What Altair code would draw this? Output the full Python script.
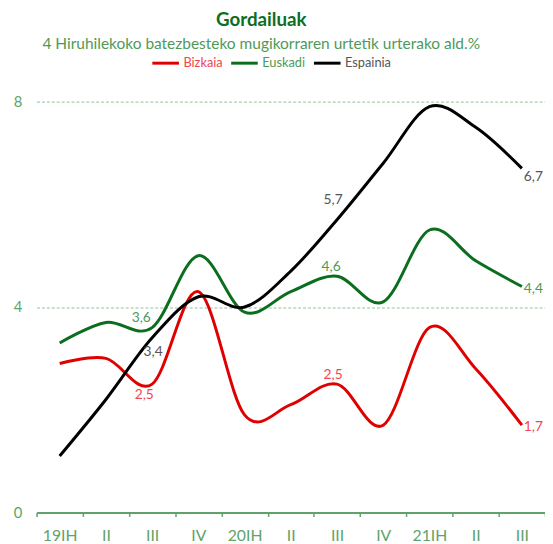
import altair as alt
import pandas as pd

# ---------------- data ----------------
quarters = ["19IH", "II", "III", "IV", "20IH", "II", "III", "IV", "21IH", "II", "III"]
series_names = ["Bizkaia", "Euskadi", "Espainia"]
bizkaia = [2.9, 3.0, 2.5, 4.3, 1.9, 2.1, 2.5, 1.7, 3.6, 2.8, 1.7]
euskadi = [3.3, 3.7, 3.6, 5.0, 3.9, 4.3, 4.6, 4.1, 5.5, 4.9, 4.4]
espainia = [1.1, 2.2, 3.4, 4.2, 4.0, 4.7, 5.7, 6.8, 7.9, 7.5, 6.7]
y_ticks = [0, 4, 8]

# ---------------- styles ----------------
line_colors = ["#e00000", "#0b6e1f", "#000000"]
label_colors = ["#f0474d", "#4c9a55", "#555555"]
axis_green = "#5fa36a"
grid_green = "#8fc197"

# which points carry a value label: (series, quarter index, dx, dy, align)
label_specs = [
    ("Bizkaia", 2, -8, 11, "center"),
    ("Euskadi", 2, -11, -10, "center"),
    ("Espainia", 2, 1, 14, "center"),
    ("Bizkaia", 6, -4, -9, "center"),
    ("Euskadi", 6, -6, -9, "center"),
    ("Espainia", 6, -4, -20, "center"),
    ("Bizkaia", 10, 2, 2, "left"),
    ("Euskadi", 10, 2, 3, "left"),
    ("Espainia", 10, 2, 9, "left"),
]

rows = []
for name, vals in zip(series_names, [bizkaia, euskadi, espainia]):
    for i, v in enumerate(vals):
        rows.append({"serie": name, "idx": i, "v": v})
df = pd.DataFrame(rows)

label_expr = "[" + ",".join("'%s'" % q for q in quarters) + "][datum.value]"
legend_label_color = (
    "datum.value == '%s' ? '%s' : datum.value == '%s' ? '%s' : '%s'"
    % (series_names[0], label_colors[0], series_names[1], label_colors[1], label_colors[2])
)

X = alt.X(
    "idx:O",
    bandPosition=0.5,
    scale=alt.Scale(type="band", paddingInner=0, paddingOuter=0),
    axis=alt.Axis(
        title=None,
        labelExpr=label_expr,
        labelAngle=0,
        tickBand="extent",
        domainColor=axis_green,
        domainWidth=2,
        tickColor=axis_green,
        tickSize=4,
        tickWidth=1.5,
        labelColor=axis_green,
        labelFont="Lato",
        labelFontSize=16,
        labelPadding=11,
        grid=False,
    ),
)
Y = alt.Y(
    "v:Q",
    scale=alt.Scale(domain=[0, 8], nice=False),
    axis=alt.Axis(
        values=y_ticks,
        title=None,
        domain=False,
        ticks=False,
        labelPadding=15,
        labelColor=axis_green,
        labelFont="Lato",
        labelFontSize=15,
        gridDash=[3, 2],
        gridColor=grid_green,
        gridWidth=1,
    ),
)

lines = alt.Chart(df).mark_line(interpolate="cardinal", strokeWidth=3).encode(
    x=X,
    y=Y,
    color=alt.Color(
        "serie:N",
        scale=alt.Scale(domain=series_names, range=line_colors),
        sort=series_names,
        legend=alt.Legend(
            orient="none",
            legendX=116,
            legendY=-54,
            direction="horizontal",
            title=None,
            symbolType="stroke",
            symbolSize=729,
            symbolStrokeWidth=3,
            labelFont="Lato",
            labelFontSize=13,
            labelColor={"expr": legend_label_color},
            labelOffset=3,
            columnPadding=2,
            padding=0,
        ),
    ),
)

layers = [lines]
for serie, idx, dx, dy, align in label_specs:
    color = label_colors[series_names.index(serie)]
    t = (
        alt.Chart(df)
        .transform_filter((alt.datum.serie == serie) & (alt.datum.idx == idx))
        .transform_calculate(lbl="replace(format(datum.v, '.1f'), '.', ',')")
        .mark_text(dx=dx, dy=dy, align=align, baseline="middle", font="Lato", fontSize=14, color=color)
        .encode(x=X, y=Y, text="lbl:N")
    )
    layers.append(t)

chart = (
    alt.layer(*layers)
    .properties(
        width=516,
        height=417,
        autosize=alt.AutoSizeParams(type="none"),
        padding={"left": 29, "top": 91, "right": 0, "bottom": 28},
        title=alt.TitleParams(
            text="Gordailuak",
            subtitle="4 Hiruhilekoko batezbesteko mugikorraren urtetik urterako ald.%",
            anchor="middle",
            dx=-30,
            offset=-3,
            font="Lato",
            fontSize=19,
            fontWeight="bold",
            color="#0d6e1e",
            subtitleFont="Lato",
            subtitleFontSize=15.7,
            subtitleColor="#4e9a58",
            subtitlePadding=7,
        ),
    )
    .configure_view(stroke=None)
)

chart.save("out.html", embed_options={"renderer": "svg", "actions": False})
